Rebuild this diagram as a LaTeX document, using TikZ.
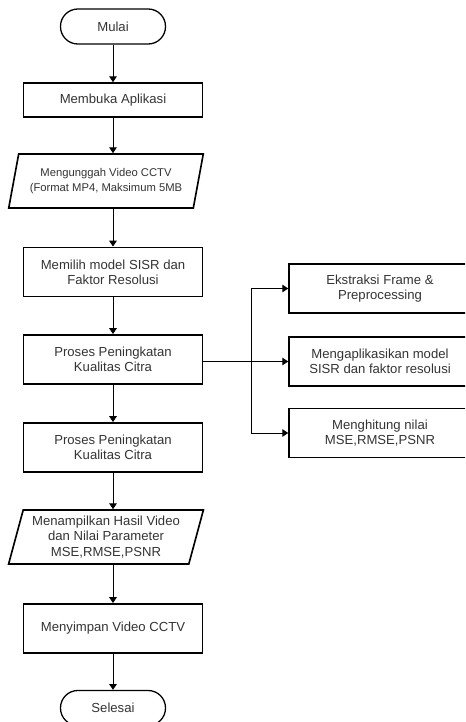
\documentclass[tikz,border=0pt]{standalone}
\usepackage{fontspec}
\setmainfont{Liberation Sans}
\usetikzlibrary{shapes.geometric,arrows.meta}

\tikzset{
    terminal/.style={draw, rounded corners=0.52cm, minimum width=3.15cm, minimum height=1.05cm, line width=1.1pt},
    box/.style={draw, minimum width=5.37cm, minimum height=1.48cm, align=center, line width=1.4pt},
    sidebox/.style={box, minimum width=5.46cm},
    io/.style={draw, trapezium, trapezium left angle=74.5, trapezium right angle=105.5,
        trapezium stretches=true, minimum width=5.85cm, minimum height=1.62cm, align=center, line width=1.4pt},
    arr/.style={-{Triangle[width=6.5pt,length=5pt]}, line width=0.8pt}
}

\begin{document}
\begin{tikzpicture}[x=0.03cm, y=-0.03cm, font=\fontsize{11.2}{13}\selectfont, text=black!80]

    \clip (0, 0) rectangle (465, 722);

    % Main flow
    \node[terminal] (mulai) at (113, 26.5) {Mulai};
    \node[box, minimum height=1.02cm] (buka) at (113, 100) {Membuka Aplikasi};
    \node[io, font=\fontsize{9.6}{12.5}\selectfont] (unggah) at (106, 181) {Mengunggah Video CCTV\\(Format MP4, Maksimum 5MB};
    \node[box] (pilih) at (113, 272) {Memilih model SISR dan\\Faktor Resolusi};
    \node[box] (proses) at (113, 359.5) {Proses Peningkatan\\Kualitas Citra};
    \node[box] (proseslagi) at (113, 447.5) {Proses Peningkatan\\Kualitas Citra};
    \node[io] (tampil) at (106, 537) {Menampilkan Hasil Video\\dan Nilai Parameter\\MSE,RMSE,PSNR};
    \node[box] (simpan) at (113, 628.5) {Menyimpan Video CCTV};
    \node[terminal] (selesai) at (113, 708) {Selesai};

    % Sub steps on the right
    \node[sidebox] (ekstrak) at (380, 288.5) {Ekstraksi Frame \&\\Preprocessing};
    \node[sidebox] (aplikasi) at (380, 361.5) {Mengaplikasikan model\\SISR dan faktor resolusi};
    \node[sidebox] (hitung) at (380, 433) {Menghitung nilai\\MSE,RMSE,PSNR};

    % Arrows of the main flow
    \draw[arr] (mulai) -- (buka);
    \draw[arr] (buka.south) -- (buka.south |- unggah.north);
    \draw[arr] (pilih.north |- unggah.south) -- (pilih.north);
    \draw[arr] (pilih) -- (proses);
    \draw[arr] (proses) -- (proseslagi);
    \draw[arr] (proseslagi.south) -- (proseslagi.south |- tampil.north);
    \draw[arr] (simpan.north |- tampil.south) -- (simpan.north);
    \draw[arr] (simpan) -- (selesai);

    % Branch to the sub steps
    \coordinate (cabang) at (251, 361.5);
    \draw[arr] (proses.east |- aplikasi.west) -- (aplikasi.west);
    \draw[arr] (cabang) |- (ekstrak.west);
    \draw[arr] (cabang) |- (hitung.west);

\end{tikzpicture}
\end{document}
